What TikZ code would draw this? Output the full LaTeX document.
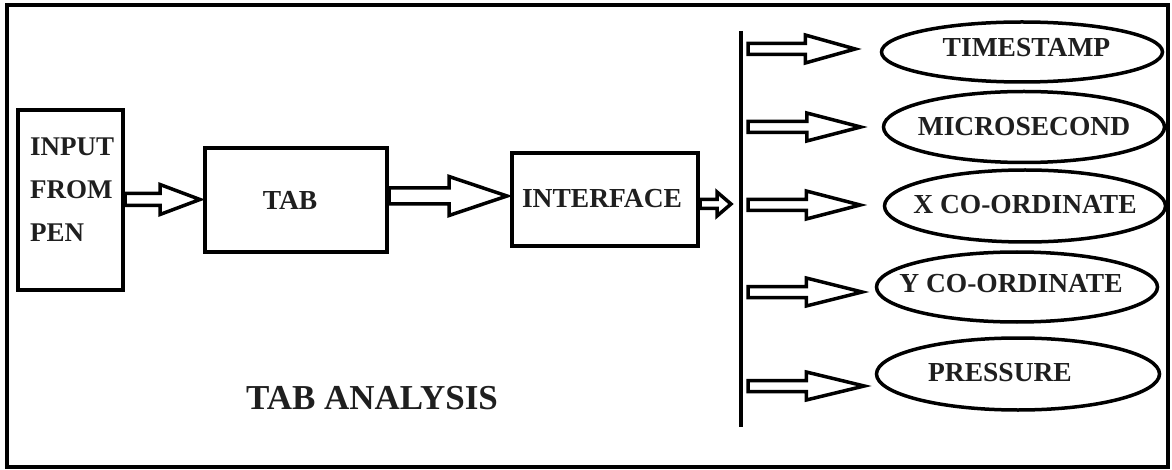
\documentclass[tikz,border=0pt]{standalone}
\usepackage{fontspec}
\setmainfont{Liberation Serif}
\usetikzlibrary{shapes.geometric,calc}
\tikzset{
  box/.style={draw, line width=4pt, inner sep=0pt},
  oval/.style={draw, ellipse, line width=3.5pt, inner sep=0pt, minimum width=281pt},
  lbl/.style={font=\fontsize{27.5}{30}\selectfont\bfseries, text=black!88},
  barrow/.style={draw, line width=3.5pt, line join=miter, fill=white},
  bar/.style={line width=4.5pt},
  frame/.style={line width=4pt},
}
\newcommand\fixw[1]{\makebox[0pt]{#1}}
% #1 start coordinate, #2 tip coordinate, #3 y (px), #4 shaft half, #5 head half, #6 head length
\newcommand\blockarrow[6]{%
  \draw[barrow] let \p1=#1, \p2=#2 in
    (\x1,-#3pt+#4pt) -- (\x2-#6pt,-#3pt+#4pt) -- (\x2-#6pt,-#3pt+#5pt) -- (\x2,-#3pt)
    -- (\x2-#6pt,-#3pt-#5pt) -- (\x2-#6pt,-#3pt-#4pt) -- (\x1,-#3pt-#4pt) -- cycle;}
\begin{document}
\begin{tikzpicture}[x=1pt,y=-1pt]
\useasboundingbox (0,0) rectangle (1172,470);
\draw[frame] (7,5) rectangle (1168,467);

% left blocks
\node[box, minimum width=105pt, minimum height=180pt] (pen) at (70.5,200) {};
\node[lbl, font=\fontsize{27}{43}\selectfont\bfseries, anchor=west, align=left, inner sep=0pt] (pentxt) at (30,190) {INPUT\\FROM\\PEN};
\node[box, lbl, minimum width=182pt, minimum height=104pt] (tab) at (296,200) {\fixw{\hspace{-12pt}TAB}};
\node[box, lbl, minimum width=186pt, minimum height=93pt, text depth=3pt] (iface) at (605,199.5) {\fixw{\hspace{-6pt}INTERFACE}};

% bar
\coordinate (bartop) at (741,31);
\coordinate (barbot) at (741,427);
\draw[bar] (bartop) -- (barbot);

% outputs
\node[oval, lbl, minimum height=60pt, text depth=9pt] (t1) at (1022,52) {\fixw{\hspace{9pt}TIMESTAMP}};
\node[oval, lbl, minimum height=71pt] (t2) at (1024,127) {\fixw{MICROSECOND}};
\node[oval, lbl, minimum height=72pt, text depth=4pt] (t3) at (1025,206) {\fixw{X CO-ORDINATE}};
\node[oval, lbl, minimum height=70pt, text depth=7pt] (t4) at (1017,287) {\fixw{\hspace{-12pt}Y CO-ORDINATE}};
\node[oval, lbl, minimum height=72pt, minimum width=283pt, text depth=3pt] (t5) at (1018,374) {\fixw{\hspace{-36pt}PRESSURE}};

% arrows
\blockarrow{(pen.east)}{($(tab.west)+(-3,0)$)}{199.5}{6}{15}{40}
\blockarrow{(tab.east)}{($(iface.west)+(-3,0)$)}{196}{8}{19.5}{58}
\blockarrow{(iface.east)}{($(bartop)+(-10,0)$)}{204}{4.5}{12}{14}

\blockarrow{($(bartop)+(7,0)$)}{($(t1.west)+(-24.5,0)$)}{49}{5.5}{14}{50}
\blockarrow{($(bartop)+(7,0)$)}{($(t2.west)+(-21,0)$)}{127}{5.5}{14}{54}
\blockarrow{($(bartop)+(7,0)$)}{($(t3.west)+(-22.5,0)$)}{205}{5.5}{14}{54}
\blockarrow{($(bartop)+(7,0)$)}{($(t4.west)+(-12.5,0)$)}{292}{5.5}{14}{56}
\blockarrow{($(bartop)+(7,0)$)}{($(t5.west)+(-10.5,0)$)}{386}{5.5}{14}{58}

\node[lbl, font=\fontsize{35}{38}\selectfont\bfseries] (title) at (372,398) {TAB ANALYSIS};
\end{tikzpicture}
\end{document}
